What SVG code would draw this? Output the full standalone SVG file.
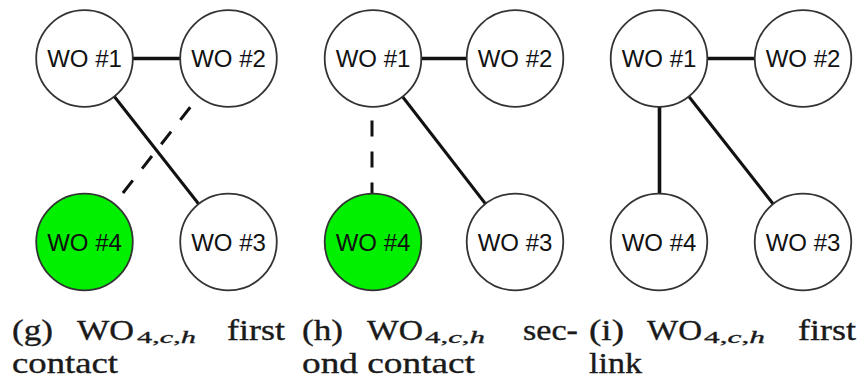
<svg xmlns="http://www.w3.org/2000/svg" width="866" height="379" viewBox="0 0 866 379">
  <style>
    .node circle { fill: #ffffff; stroke: #333333; stroke-width: 1.8; }
    .node.active circle { fill: #00f000; }
    .node text { font-family: "Liberation Sans", Arial, sans-serif; font-size: 24px; fill: #111111; text-anchor: middle; }
    .link { stroke: #111111; stroke-width: 3; fill: none; }
    .link.thick { stroke-width: 3.6; }
    .link.dashed { stroke-dasharray: 16 15; }
    .cap { font-family: "Liberation Serif", "Times New Roman", serif; font-size: 30px; fill: #1a1a1a; stroke: #1a1a1a; stroke-width: 0.35; }
    .sub { font-family: "Liberation Serif", "Times New Roman", serif; font-size: 17px; fill: #1a1a1a; stroke: #1a1a1a; stroke-width: 0.3; }
    .it { font-style: italic; }
  </style>
  <rect width="866" height="379" fill="#ffffff"/>

  <!-- (g) first contact -->
  <g id="panel-g">
    <g id="links-g">
      <line class="link thick" x1="84.5" y1="58.5" x2="228.5" y2="58.5"/>
      <line class="link" x1="84.5" y1="58.5" x2="228.5" y2="242"/>
      <line class="link dashed" x1="228.5" y1="58.5" x2="84.5" y2="242"/>
    </g>
    <g id="g-wo1" class="node"><circle cx="84.5" cy="58.5" r="48.3"/><text x="84.5" y="67">WO #1</text></g>
    <g id="g-wo2" class="node"><circle cx="228.5" cy="58.5" r="48.3"/><text x="228.5" y="67">WO #2</text></g>
    <g id="g-wo4" class="node active"><circle cx="84.5" cy="242" r="48.3"/><text x="84.5" y="250.5">WO #4</text></g>
    <g id="g-wo3" class="node"><circle cx="228.5" cy="242" r="48.3"/><text x="228.5" y="250.5">WO #3</text></g>
    <g id="caption-g">
      <text class="cap" x="12" y="339.5" textLength="41" lengthAdjust="spacingAndGlyphs">(g)</text>
      <text class="cap" x="77" y="339.5" textLength="57" lengthAdjust="spacingAndGlyphs">WO</text>
      <text class="sub" x="137" y="342.5" textLength="59" lengthAdjust="spacingAndGlyphs">4,<tspan class="it">c</tspan>,<tspan class="it">h</tspan></text>
      <text class="cap" x="227" y="339.5" textLength="58" lengthAdjust="spacingAndGlyphs">first</text>
      <text class="cap" x="12" y="373" textLength="106" lengthAdjust="spacingAndGlyphs">contact</text>
    </g>
  </g>

  <!-- (h) second contact -->
  <g id="panel-h">
    <g id="links-h">
      <line class="link thick" x1="373" y1="58.5" x2="515" y2="58.5"/>
      <line class="link" x1="373" y1="58.5" x2="515" y2="242"/>
      <line class="link dashed" x1="372" y1="58.5" x2="372" y2="242"/>
    </g>
    <g id="h-wo1" class="node"><circle cx="373" cy="58.5" r="48.3"/><text x="373" y="67">WO #1</text></g>
    <g id="h-wo2" class="node"><circle cx="515" cy="58.5" r="48.3"/><text x="515" y="67">WO #2</text></g>
    <g id="h-wo4" class="node active"><circle cx="373" cy="242" r="48.3"/><text x="373" y="250.5">WO #4</text></g>
    <g id="h-wo3" class="node"><circle cx="515" cy="242" r="48.3"/><text x="515" y="250.5">WO #3</text></g>
    <g id="caption-h">
      <text class="cap" x="302" y="339.5" textLength="41" lengthAdjust="spacingAndGlyphs">(h)</text>
      <text class="cap" x="367" y="339.5" textLength="56" lengthAdjust="spacingAndGlyphs">WO</text>
      <text class="sub" x="425" y="342.5" textLength="60" lengthAdjust="spacingAndGlyphs">4,<tspan class="it">c</tspan>,<tspan class="it">h</tspan></text>
      <text class="cap" x="523" y="339.5" textLength="55" lengthAdjust="spacingAndGlyphs">sec-</text>
      <text class="cap" x="302" y="373" textLength="173" lengthAdjust="spacingAndGlyphs">ond contact</text>
    </g>
  </g>

  <!-- (i) first link -->
  <g id="panel-i">
    <g id="links-i">
      <line class="link thick" x1="659" y1="58.5" x2="803" y2="58.5"/>
      <line class="link" x1="659" y1="58.5" x2="803" y2="242"/>
      <line class="link thick" x1="659.5" y1="58.5" x2="659.5" y2="242"/>
    </g>
    <g id="i-wo1" class="node"><circle cx="659" cy="58.5" r="48.3"/><text x="659" y="67">WO #1</text></g>
    <g id="i-wo2" class="node"><circle cx="803" cy="58.5" r="48.3"/><text x="803" y="67">WO #2</text></g>
    <g id="i-wo4" class="node"><circle cx="659" cy="242" r="48.3"/><text x="659" y="250.5">WO #4</text></g>
    <g id="i-wo3" class="node"><circle cx="803" cy="242" r="48.3"/><text x="803" y="250.5">WO #3</text></g>
    <g id="caption-i">
      <text class="cap" x="589" y="339.5" textLength="35" lengthAdjust="spacingAndGlyphs">(i)</text>
      <text class="cap" x="647" y="339.5" textLength="55" lengthAdjust="spacingAndGlyphs">WO</text>
      <text class="sub" x="704" y="342.5" textLength="61" lengthAdjust="spacingAndGlyphs">4,<tspan class="it">c</tspan>,<tspan class="it">h</tspan></text>
      <text class="cap" x="798" y="339.5" textLength="58" lengthAdjust="spacingAndGlyphs">first</text>
      <text class="cap" x="589" y="373" textLength="53" lengthAdjust="spacingAndGlyphs">link</text>
    </g>
  </g>
</svg>
